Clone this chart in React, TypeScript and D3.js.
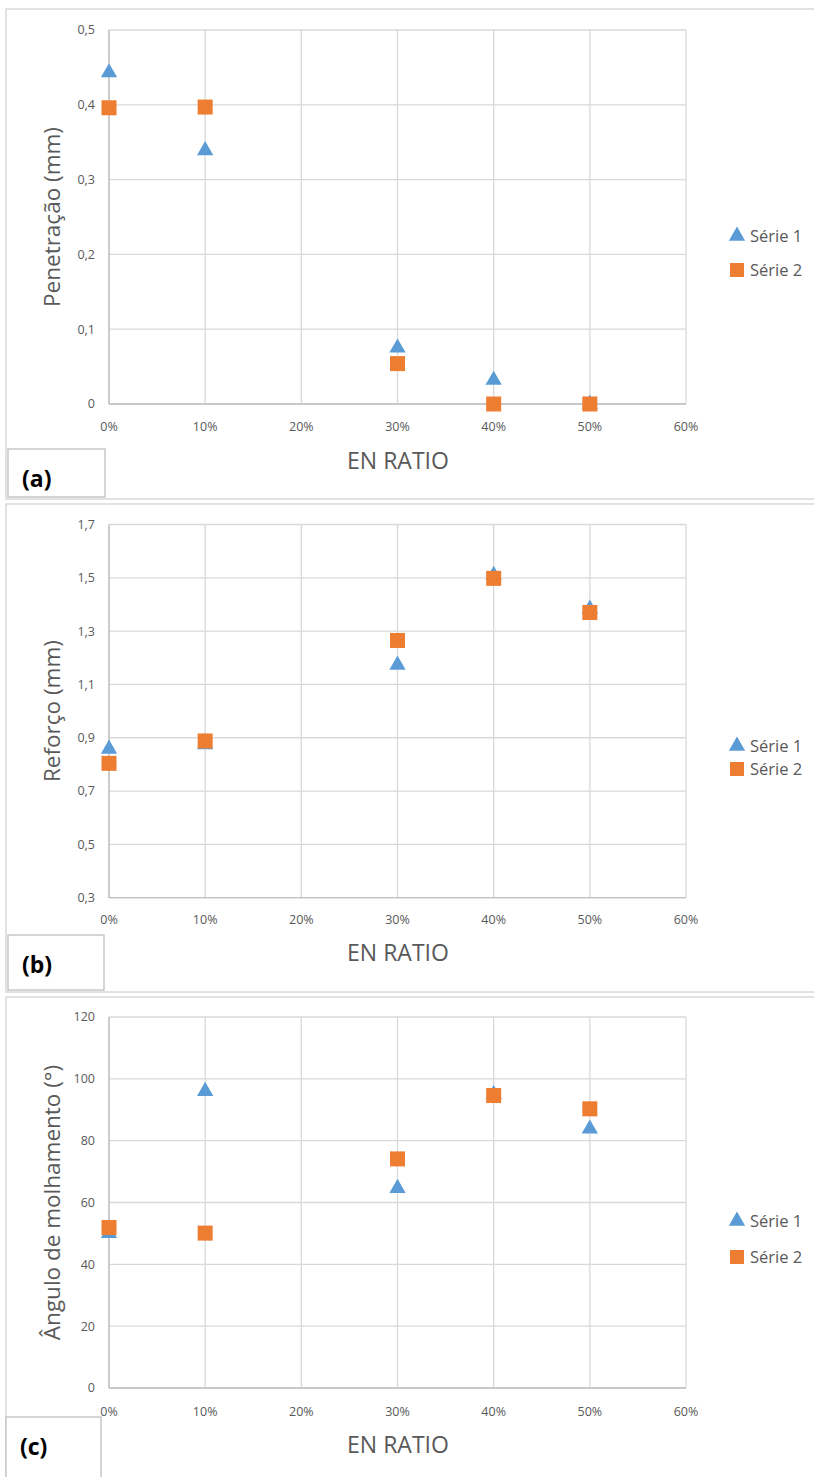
import React from "react";
import * as d3 from "d3";

const xCategories = [0, 0.1, 0.3, 0.4, 0.5];
const xTicks = [0, 0.1, 0.2, 0.3, 0.4, 0.5, 0.6];

const penS1 = [0.443, 0.339, 0.075, 0.032, 0];
const penS2 = [0.396, 0.397, 0.054, 0, 0];
const penTicks = [0, 0.1, 0.2, 0.3, 0.4, 0.5];

const refS1 = [0.858, 0.875, 1.173, 1.51, 1.383];
const refS2 = [0.804, 0.888, 1.265, 1.498, 1.37];
const refTicks = [0.3, 0.5, 0.7, 0.9, 1.1, 1.3, 1.5, 1.7];

const angS1 = [50, 96, 64.6, 95, 83.8];
const angS2 = [51.9, 50.1, 74.1, 94.6, 90.3];
const angTicks = [0, 20, 40, 60, 80, 100, 120];

const seriesNames = ["Série 1", "Série 2"];
const panelLabels = ["(a)", "(b)", "(c)"];
const yTitles = ["Penetração (mm)", "Reforço (mm)", "Ângulo de molhamento (°)"];
const xTitle = "EN RATIO";

const BLUE = "#5B9BD5";
const ORANGE = "#ED7D31";
const GRID = "#D9D9D9";
const TXT = "#595959";
const FONT = "'Open Sans', 'Noto Sans', sans-serif";

type PanelCfg = {
  frameTop: number;
  frameBottom: number;
  plotTop: number;
  plotBottom: number;
  domain: [number, number];
  ticks: number[];
  fmt: (v: number) => string;
  s1: number[];
  s2: number[];
  legendY: [number, number];
  labelBox: [number, number, number, number];
  xLabelY: number;
  xTitleY: number;
  yTitle: string;
  label: string;
};

const commaFmt = (dec: number) => (v: number) =>
  v === 0 ? "0" : v.toFixed(dec).replace(".", ",");

const panels: PanelCfg[] = [
  {
    frameTop: 9, frameBottom: 499, plotTop: 30, plotBottom: 404,
    domain: [0, 0.5], ticks: penTicks, fmt: commaFmt(1),
    s1: penS1, s2: penS2, legendY: [236, 270],
    labelBox: [8, 449, 97, 48], xLabelY: 427, xTitleY: 461,
    yTitle: yTitles[0], label: panelLabels[0],
  },
  {
    frameTop: 504, frameBottom: 992, plotTop: 524.5, plotBottom: 897.7,
    domain: [0.3, 1.7], ticks: refTicks, fmt: commaFmt(1),
    s1: refS1, s2: refS2, legendY: [746, 769],
    labelBox: [8, 935, 96, 55], xLabelY: 920, xTitleY: 953,
    yTitle: yTitles[1], label: panelLabels[1],
  },
  {
    frameTop: 997, frameBottom: 1490, plotTop: 1017, plotBottom: 1388,
    domain: [0, 120], ticks: angTicks, fmt: (v) => String(v),
    s1: angS1, s2: angS2, legendY: [1221, 1257],
    labelBox: [6, 1417, 95, 80], xLabelY: 1412, xTitleY: 1445,
    yTitle: yTitles[2], label: panelLabels[2],
  },
];

const xScale = d3.scaleLinear().domain([0, 0.6]).range([109, 686]);
const pctFmt = d3.format(".0%");
const triPath = d3.symbol().type(d3.symbolTriangle).size(115)()!;
const SQ = 15;

function Panel({ p }: { p: PanelCfg }) {
  const y = d3.scaleLinear().domain(p.domain).range([p.plotBottom, p.plotTop]);
  const midY = (p.plotTop + p.plotBottom) / 2;
  return (
    <g>
      <rect
        x={6}
        y={p.frameTop}
        width={820}
        height={p.frameBottom - p.frameTop}
        fill="#fff"
        stroke={GRID}
        strokeWidth={1.5}
      />
      {p.ticks.map((t) => (
        <line key={"h" + t} x1={xScale(0)} x2={xScale(0.6)} y1={y(t)} y2={y(t)} stroke={GRID} strokeWidth={1.3} />
      ))}
      {xTicks.map((t) => (
        <line key={"v" + t} x1={xScale(t)} x2={xScale(t)} y1={y(p.domain[0])} y2={y(p.domain[1])} stroke={GRID} strokeWidth={1.3} />
      ))}
      <line x1={xScale(0)} x2={xScale(0)} y1={p.plotTop} y2={p.plotBottom} stroke="#BFBFBF" strokeWidth={1.3} />
      <line x1={xScale(0)} x2={xScale(0.6)} y1={p.plotBottom} y2={p.plotBottom} stroke="#BFBFBF" strokeWidth={1.3} />
      {p.ticks.map((t) => (
        <text key={"yl" + t} x={95} y={y(t)} dy="0.35em" textAnchor="end" fontFamily={FONT} fontSize={12.5} fill={TXT}>
          {p.fmt(t)}
        </text>
      ))}
      {xTicks.map((t) => (
        <text key={"xl" + t} x={xScale(t)} y={p.xLabelY} dy="0.35em" textAnchor="middle" fontFamily={FONT} fontSize={12.5} fill={TXT}>
          {pctFmt(t)}
        </text>
      ))}
      <text x={398} y={p.xTitleY} dy="0.35em" textAnchor="middle" fontFamily={FONT} fontSize={23} fill={TXT}>
        {xTitle}
      </text>
      <text
        transform={`translate(52,${midY}) rotate(-90)`}
        dy="0.35em"
        textAnchor="middle"
        fontFamily={FONT}
        fontSize={22.5}
        fill={TXT}
      >
        {p.yTitle}
      </text>
      {xCategories.map((c, i) => (
        <path key={"s1" + i} d={triPath} transform={`translate(${xScale(c)},${y(p.s1[i])})`} fill={BLUE} />
      ))}
      {xCategories.map((c, i) => (
        <rect key={"s2" + i} x={xScale(c) - SQ / 2} y={y(p.s2[i]) - SQ / 2} width={SQ} height={SQ} fill={ORANGE} />
      ))}
      <path d={triPath} transform={`translate(737,${p.legendY[0]})`} fill={BLUE} />
      <text x={750} y={p.legendY[0]} dy="0.35em" fontFamily={FONT} fontSize={16.5} fill={TXT}>
        {seriesNames[0]}
      </text>
      <rect x={737 - 7} y={p.legendY[1] - 7} width={14} height={14} fill={ORANGE} />
      <text x={750} y={p.legendY[1]} dy="0.35em" fontFamily={FONT} fontSize={16.5} fill={TXT}>
        {seriesNames[1]}
      </text>
      <rect
        x={p.labelBox[0]}
        y={p.labelBox[1]}
        width={p.labelBox[2]}
        height={p.labelBox[3]}
        fill="#fff"
        stroke="#BFBFBF"
        strokeWidth={1.3}
      />
      <text
        x={p.labelBox[0] + 14}
        y={p.labelBox[1] + 30}
        dy="0.35em"
        fontFamily={FONT}
        fontSize={23}
        fontWeight="bold"
        fill="#000"
      >
        {p.label}
      </text>
    </g>
  );
}

export default function App() {
  return (
    <svg
      width={814}
      height={1477}
      style={{ position: "absolute", left: 0, top: 0, background: "#fff" }}
    >
      <rect x={0} y={0} width={814} height={1477} fill="#fff" />
      {panels.map((p, i) => (
        <Panel key={i} p={p} />
      ))}
    </svg>
  );
}
